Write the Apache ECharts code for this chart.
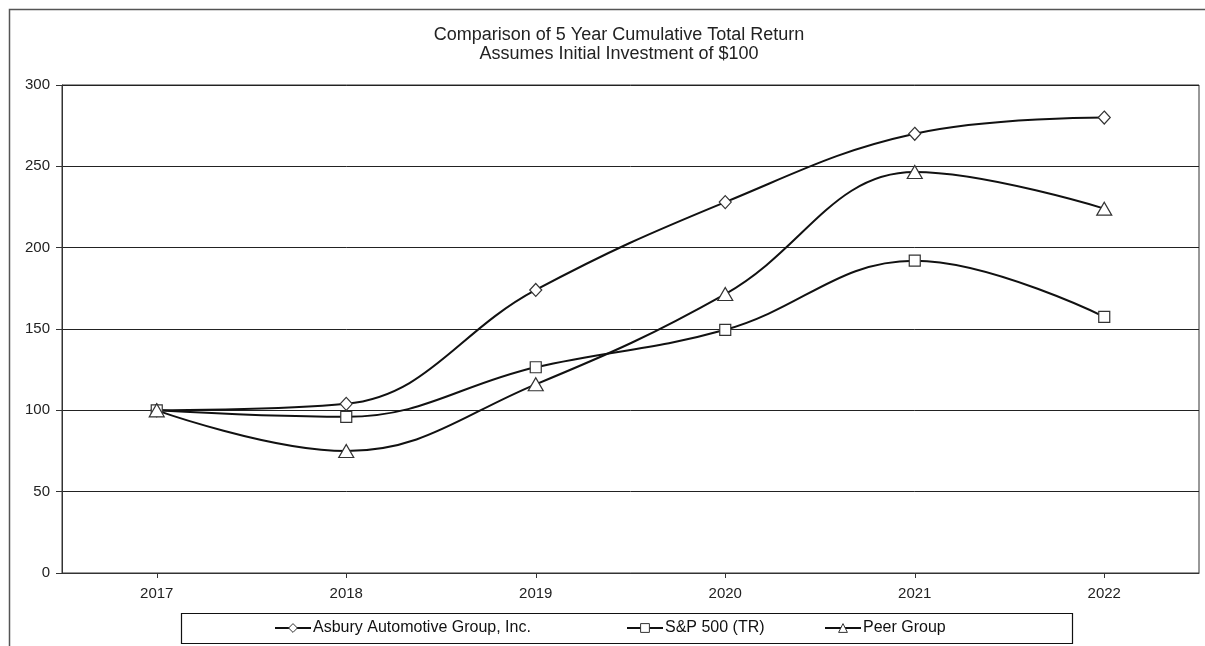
<!DOCTYPE html>
<html>
<head>
<meta charset="utf-8">
<script src="https://cdn.jsdelivr.net/npm/echarts@6/dist/echarts.min.js"></script>
<style>
html,body{margin:0;padding:0;background:#fff;}
#chart{width:1205px;height:646px;}
</style>
</head>
<body>
<div id="chart"></div>
<script>
var years = ['2017', '2018', '2019', '2020', '2021', '2022'];
var asbury = [100, 104, 174, 228, 270, 280];
var sp500 = [100, 96, 126.5, 149.5, 192, 157.5];
var peer = [100, 75, 116, 171.5, 246.5, 224];
var seriesNames = ['Asbury Automotive Group, Inc.', 'S&P 500 (TR)', 'Peer Group'];
var titleLines = ['Comparison of 5 Year Cumulative Total Return', 'Assumes Initial Investment of $100'];

var FONT = '"Liberation Sans", Arial, sans-serif';
var chart = echarts.init(document.getElementById('chart'));

function lineSeries(name, data, symbol, size) {
  return {
    name: name,
    type: 'line',
    data: data,
    smooth: 0.4,
    symbol: symbol,
    symbolSize: size,
    showAllSymbol: true,
    lineStyle: { color: '#111', width: 2 },
    itemStyle: { color: '#fff', borderColor: '#333', borderWidth: 1.2 },
    emphasis: { disabled: true },
    z: 3
  };
}

function legendAt(name, left) {
  return {
    data: [name],
    left: left,
    top: 620,
    itemWidth: 36,
    itemHeight: 11,
    itemGap: 4,
    padding: 0,
    selectedMode: false,
    itemStyle: { borderWidth: 1 },
    textStyle: { fontFamily: FONT, fontSize: 16, color: '#111', padding: [0, 0, 0, -3] }
  };
}

chart.setOption({
  animation: false,
  backgroundColor: '#fff',
  title: {
    text: titleLines.join('\n'),
    left: 614,
    top: 21,
    textAlign: 'center',
    textStyle: { fontFamily: FONT, fontSize: 18, fontWeight: 'normal', color: '#222', lineHeight: 19 }
  },
  graphic: [
    { type: 'rect', shape: { x: 9.5, y: 9.5, width: 1220, height: 660 },
      style: { fill: null, stroke: '#555', lineWidth: 1.5 }, z: 0 },
    { type: 'rect', shape: { x: 181.5, y: 613.5, width: 891, height: 30 },
      style: { fill: '#fff', stroke: '#111', lineWidth: 1.2 }, z: 1 }
  ],
  legend: [
    legendAt(seriesNames[0], 274),
    legendAt(seriesNames[1], 626),
    legendAt(seriesNames[2], 824)
  ],
  grid: {
    left: 62, top: 85, right: 6, bottom: 73,
    show: true, borderColor: '#333', borderWidth: 1, backgroundColor: 'transparent'
  },
  xAxis: {
    type: 'category',
    data: years,
    boundaryGap: true,
    axisLine: { lineStyle: { color: '#333', width: 1 } },
    axisTick: { show: true, alignWithLabel: true, length: 5, lineStyle: { color: '#333' } },
    axisLabel: { fontFamily: FONT, fontSize: 15, color: '#222', margin: 13 },
    splitLine: { show: false }
  },
  yAxis: {
    type: 'value',
    min: 0, max: 300, interval: 50,
    axisLine: { show: true, lineStyle: { color: '#333', width: 1 } },
    axisTick: { show: true, length: 6, lineStyle: { color: '#333' } },
    axisLabel: { fontFamily: FONT, fontSize: 15, color: '#222', margin: 12 },
    splitLine: { show: true, lineStyle: { color: '#222', width: 1 } }
  },
  series: [
    lineSeries(seriesNames[0], asbury, 'diamond', [12, 13]),
    lineSeries(seriesNames[1], sp500, 'rect', 11),
    lineSeries(seriesNames[2], peer, 'triangle', [15, 13])
  ]
});
</script>
</body>
</html>
